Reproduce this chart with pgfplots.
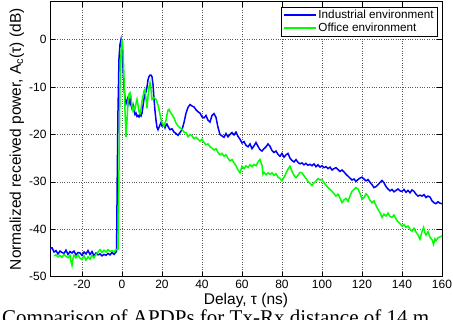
\documentclass[border=0pt]{standalone}
\usepackage{fontspec}
\setmainfont{Liberation Sans}
\newfontfamily\capfont{Liberation Serif}
\usepackage{pgfplots}
\pgfplotsset{compat=1.18}
\definecolor{mblue}{RGB}{0,0,255}
\definecolor{mgreen}{RGB}{0,255,0}
\begin{document}
\begin{tikzpicture}
\begin{axis}[
  at={(50pt,43.3pt)}, anchor=south west,
  scale only axis, width=392pt, height=275pt,
  xmin=-36, xmax=160, ymin=-50, ymax=8,
  xtick={-20,0,20,40,60,80,100,120,140,160},
  ytick={-50,-40,-30,-20,-10,0},
  tick align=inside, major tick length=5pt,
  tick style={black, line width=0.6pt},
  axis line style={black, line width=0.8pt},
  grid=major, major grid style={dotted, black!65, line width=0.6pt},
  /pgf/number format/assume math mode=true,
  ticklabel style={font=\fontsize{12}{14}\selectfont},
  label style={font=\fontsize{15.5}{18}\selectfont},
  xlabel={Delay, τ (ns)},
  ylabel={Normalized received power, A\textsubscript{c}(τ) (dB)},
  xlabel style={at={(axis description cs:0.5,0)}, anchor=base, yshift=-28.3pt},
  ylabel style={at={([xshift=-29pt]axis description cs:0,0.5)}, anchor=base},
  legend style={at={([xshift=-4pt,yshift=-5pt]axis description cs:1,1)}, anchor=north east,
    font=\fontsize{11.7}{13}\selectfont, draw=black, line width=0.8pt,
    inner xsep=2pt, inner ysep=1pt, row sep=-1pt},
  legend cell align=left,
  legend image post style={line width=1.5pt},
  legend image code/.code={\draw[#1] (0cm,0cm) -- (1.1cm,0cm);},
]
\addplot[mblue, line width=1.5pt] coordinates {
(-36,-44.0)(-35,-43.9)(-34,-44.8)(-33,-44.5)(-32,-45.2)(-31,-44.6)(-30,-44.9)(-29,-45.1)(-28,-44.4)(-27,-45.3)
(-26,-44.7)(-25,-45.0)(-24,-44.6)(-23,-45.4)(-22,-44.9)(-21,-45.0)(-20,-45.5)(-19,-44.8)(-18,-45.2)(-17,-44.5)
(-16,-45.3)(-15,-44.7)(-14,-45.6)(-13,-45.0)(-12,-45.4)(-11,-45.2)(-10,-45.6)(-9,-45.3)(-8,-45.5)(-7,-45.1)
(-6,-45.4)(-5,-44.9)(-4,-45.3)(-3,-44.8)(-2.7,-44.5)(-2.4,-30)(-2.0,-15)(-1.5,-4)(-1.0,-1)(-0.5,0)
(0,-2)(0.5,-6)(1,-10)(1.5,-12.5)(2,-13.5)(2.5,-12.8)(3,-12.2)(3.5,-13.5)(4,-12.5)(4.5,-13.8)
(5,-14.5)(5.5,-13.8)(6,-15)(6.5,-15.8)(7,-15.5)(7.5,-16.2)(8,-16.0)(8.5,-16.3)(9,-15.8)(9.5,-16.1)
(10,-15.5)(10.5,-14.0)(11,-12.5)(11.5,-11.5)(12,-11.0)(12.5,-10.0)(13,-8.5)(13.5,-7.8)(14,-7.5)(14.5,-7.5)
(15,-7.8)(15.5,-9.5)(16,-12.5)(16.5,-15)(17,-17)(17.5,-18.5)(18,-19.0)(18.5,-18.5)(19,-18.0)(19.5,-17.5)
(20,-18.2)(21,-18.0)(21.5,-18.6)(22,-18.0)(22.5,-17.8)(23,-18.3)(24,-19.0)(25,-18.8)(26,-19.5)(27,-19.8)
(28,-20.2)(29,-19.6)(30,-19.0)(31,-17.5)(32,-15.5)(33,-14.3)(34,-13.7)(35,-14.0)(36,-14.2)(37,-14.8)
(38,-15.2)(39,-15.5)(40,-16.3)(41,-16.5)(42,-16.0)(43,-17.0)(44,-17.4)(45,-16.0)(46,-15.6)(47,-16.4)
(48,-18.5)(49,-20.0)(50,-20.3)(51,-20.6)(52,-19.8)(53,-20.5)(54,-20.0)(55,-19.6)(56,-20.1)(57,-19.5)
(58,-20.4)(59,-21.0)(60,-21.8)(61,-21.5)(62,-22.3)(63,-22.6)(64,-22.0)(65,-23.0)(66,-22.4)(67,-21.7)
(68,-22.5)(69,-23.2)(70,-23.5)(71,-23.0)(72,-22.6)(73,-22.0)(74,-22.5)(75,-23.4)(76,-23.8)(77,-23.5)
(78,-24.2)(79,-24.6)(80,-24.0)(81,-24.8)(82,-24.3)(83,-24.0)(84,-25.0)(85,-25.5)(86,-25.8)(87,-25.3)
(88,-25.9)(89,-26.2)(90,-26.0)(91,-26.4)(92,-26.1)(93,-26.5)(94,-26.3)(95,-26.6)(96,-26.2)(97,-26.8)
(98,-26.4)(99,-26.9)(100,-26.6)(101,-27.0)(102,-26.8)(103,-27.2)(104,-26.9)(105,-27.5)(106,-27.2)(107,-27.0)
(108,-27.4)(109,-27.8)(110,-27.5)(111,-27.9)(112,-28.4)(113,-28.8)(114,-29.2)(115,-29.6)(116,-29.4)(117,-29.9)
(118,-29.5)(119,-29.2)(120,-29.0)(121,-29.4)(122,-29.8)(123,-29.5)(124,-30.1)(125,-30.6)(126,-31.2)(127,-31.0)
(128,-30.6)(129,-30.1)(130,-29.7)(131,-30.2)(132,-31.0)(133,-31.5)(134,-31.9)(135,-31.6)(136,-32.1)(137,-31.8)
(138,-31.5)(139,-31.9)(140,-32.0)(141,-31.6)(142,-32.2)(143,-31.8)(144,-32.3)(145,-31.7)(146,-32.0)(147,-32.6)
(148,-33.0)(149,-32.8)(150,-33.0)(151,-32.7)(152,-33.3)(153,-33.0)(154,-33.2)(155,-34.0)(156,-34.4)(157,-34.6)
(158,-34.2)(159,-34.5)(160,-34.6)
};
\addlegendentry{Industrial environment}
\addplot[mgreen, line width=1.5pt] coordinates {
(-34,-45.6)(-33,-45.4)(-32,-45.8)(-31,-45.5)(-30,-45.9)(-29,-45.3)(-28,-45.7)(-27,-46.0)(-26,-45.5)(-25.5,-46.8)
(-25,-47.6)(-24.5,-46.2)(-24,-45.5)(-23,-46.0)(-22,-45.4)(-21,-46.1)(-20,-46.4)(-19,-45.6)(-18,-46.5)(-17,-45.8)
(-16,-46.3)(-15,-45.5)(-14,-46.0)(-13,-45.3)(-12,-44.8)(-11,-44.3)(-10,-44.9)(-9,-44.4)(-8,-44.8)(-7,-44.3)
(-6,-44.7)(-5,-44.5)(-4,-44.8)(-3,-44.3)(-2,-44.2)(-1.7,-35)(-1.3,-20)(-1.0,-10)(-0.5,-3)(0,0)
(0.5,-2)(1,-8)(1.5,-15)(2,-20.5)(2.5,-17)(3,-13)(3.5,-11.5)(4,-11.2)(4.5,-12)(5,-14)
(5.5,-15)(6,-14.2)(6.5,-14.7)(7,-13.5)(7.5,-12.6)(8,-13.8)(8.5,-15.2)(9,-15.6)(9.5,-14.7)(10,-13.0)
(10.5,-12.0)(11,-10.8)(11.5,-10.5)(12,-12.5)(12.5,-14.5)(13,-12)(13.5,-10.0)(14,-9.1)(14.5,-10.5)(15,-12.6)
(16,-12.2)(17,-12.6)(18,-13.8)(18.5,-14.7)(19,-15.8)(19.5,-16.8)(20,-17.5)(21,-18.2)(21.5,-17.6)(22,-17.0)
(22.5,-15.8)(23,-14.9)(23.5,-14.7)(24,-15.2)(25,-15.8)(26,-16.5)(27,-17.6)(28,-18.2)(29,-18.6)(30,-18.9)
(31,-19.5)(32,-19.6)(33,-20.5)(34,-20.0)(35,-20.3)(36,-20.9)(37,-20.6)(38,-21.0)(39,-21.4)(40,-21.0)
(41,-21.7)(42,-22.2)(43,-22.0)(44,-22.6)(45,-22.9)(46,-23.3)(47,-23.0)(48,-23.8)(49,-24.3)(50,-24.0)
(51,-24.6)(52,-24.3)(53,-25.0)(54,-25.6)(55,-25.3)(56,-26.0)(57,-26.6)(58,-27.5)(59,-28.1)(60,-26.7)
(61,-27.2)(62,-26.6)(63,-27.0)(64,-26.4)(65,-26.8)(66,-26.3)(67,-26.6)(68,-25.8)(69,-25.3)(70,-26.5)
(70.5,-28.4)(71,-28.0)(72,-28.5)(73,-28.1)(74,-28.4)(75,-28.1)(76,-28.6)(77,-28.3)(78,-29.0)(79,-29.3)
(80,-29.8)(81,-29.0)(82,-28.2)(83,-27.3)(84,-26.7)(85,-27.8)(86,-28.6)(87,-29.1)(88,-28.6)(89,-28.0)
(90,-28.1)(91,-28.7)(92,-29.3)(93,-29.9)(94,-30.3)(95,-30.8)(96,-30.2)(97,-29.8)(98,-29.3)(99,-29.6)
(100,-29.5)(101,-30.2)(102,-30.7)(103,-31.2)(104,-31.6)(105,-32.0)(106,-32.5)(107,-33.0)(108,-32.6)(109,-33.4)
(110,-34.4)(111,-33.8)(112,-33.5)(113,-34.1)(114,-33.0)(115,-32.0)(116,-31.6)(117,-31.2)(118,-31.5)(119,-32.4)
(120,-33.7)(121,-33.3)(122,-32.5)(123,-33.0)(124,-33.9)(125,-34.4)(126,-34.0)(127,-35.0)(128,-35.8)(129,-36.5)
(130,-37.5)(131,-36.8)(132,-37.2)(133,-36.6)(134,-37.3)(135,-37.5)(136,-37.0)(137,-37.8)(138,-38.4)(139,-38.8)
(140,-39.3)(141,-39.0)(142,-39.6)(143,-39.3)(144,-40.0)(145,-40.4)(146,-39.8)(147,-40.6)(148,-41.2)(149,-42.1)
(150,-40.5)(150.8,-39.6)(151.5,-40.8)(152,-41.2)(153,-40.5)(154,-41.7)(155,-42.2)(155.8,-43.2)(156.5,-42.0)(157,-42.4)
(158,-41.8)(159,-41.6)(160,-41.4)
};
\addlegendentry{Office environment}
\end{axis}
\begin{scope}
\clip (0,0) rectangle (453pt,320pt);
\node[anchor=base west, inner sep=0pt, font=\capfont\fontsize{21}{25}\selectfont] at (2pt,-5pt) {Comparison of APDPs for Tx-Rx distance of 14 m};
\end{scope}
\pgfresetboundingbox
\useasboundingbox (0,0) rectangle (453pt,320pt);
\end{tikzpicture}
\end{document}
